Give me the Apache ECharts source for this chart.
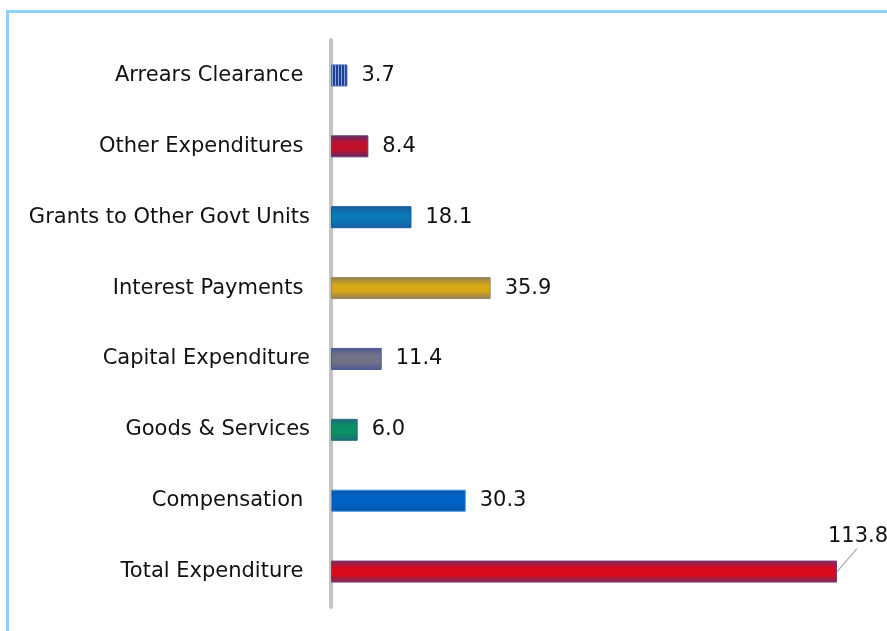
<!DOCTYPE html>
<html>
<head>
<meta charset="utf-8">
<script src="https://cdn.jsdelivr.net/npm/echarts@6/dist/echarts.min.js"></script>
<style>
    html, body { margin: 0; padding: 0; background: #fff; }
    #frame {
        position: absolute; left: 6px; top: 10px; width: 900px; height: 640px;
        border-top: 3px solid #8fd0ff; border-left: 3px solid #8fd0ff;
        box-sizing: border-box;
    }
    #chart { position: absolute; left: 0; top: 0; width: 887px; height: 631px; }
</style>
</head>
<body>
<div id="frame"></div>
<div id="chart"></div>
<script>
// categories bottom -> top (trailing spaces kept as in the source labels)
var categories = [
    'Total Expenditure ', 'Compensation ', 'Goods & Services', 'Capital Expenditure',
    'Interest Payments ', 'Grants to Other Govt Units', 'Other Expenditures ', 'Arrears Clearance '
];
var values = [113.8, 30.3, 6.0, 11.4, 35.9, 18.1, 8.4, 3.7];

// bar shading: [edge, centre, border]
var shades = [
    ['#7a2a66', '#d80a1a', '#7a3a70'],
    ['#0a55a8', '#0062c4', '#3a90e0'],
    ['#1d6a7a', '#0a9062', '#2a6a80'],
    ['#4a5890', '#737388', '#4a5a98'],
    ['#8a7e58', '#d8a818', '#9a8a60'],
    ['#1a5c9c', '#0878b6', '#1a5aa0'],
    ['#5c2a6a', '#c0102a', '#6a3a78'],
    null
];

var FONT = 'DejaVu Sans, Verdana, sans-serif';

// stripe pattern for the arrears bar
function stripes() {
    var c = document.createElement('canvas');
    c.width = 3; c.height = 4;
    var ctx = c.getContext('2d');
    ctx.fillStyle = '#1f3f90';
    ctx.fillRect(0, 0, 3, 4);
    ctx.fillStyle = '#8aa6e0';
    ctx.fillRect(2, 0, 1, 4);
    return c;
}

function barStyle(i) {
    var s = shades[i];
    if (!s) {
        return { color: { image: stripes(), repeat: 'repeat' }, borderColor: '#4a6ab0', borderWidth: 1 };
    }
    return {
        color: new echarts.graphic.LinearGradient(0, 0, 0, 1, [
            { offset: 0, color: s[0] },
            { offset: 0.35, color: s[1] },
            { offset: 0.65, color: s[1] },
            { offset: 1, color: s[0] }
        ]),
        borderColor: s[2],
        borderWidth: 1
    };
}

var seriesData = values.map(function(v, i) {
    return { value: v, itemStyle: barStyle(i) };
});

var chart = echarts.init(document.getElementById('chart'));
chart.setOption({
    animation: false,
    grid: { left: 331, right: 50, top: 40, bottom: 24 },
    xAxis: {
        type: 'value', min: 0, max: 113.8, show: false
    },
    yAxis: {
        type: 'category',
        data: categories,
        axisLine: { show: true, lineStyle: { color: '#c4c4c4', width: 4 } },
        axisTick: { show: false },
        axisLabel: {
            margin: 21,
            fontFamily: FONT,
            fontSize: 21,
            color: '#111'
        }
    },
    series: [{
        type: 'bar',
        data: seriesData,
        barWidth: 22,
        label: {
            show: true,
            position: 'right',
            distance: 14,
            fontFamily: FONT,
            fontSize: 21,
            color: '#111',
            formatter: function(p) { return p.value.toFixed(1); }
        },
        labelLayout: function(params) {
            if (params.dataIndex === 0) {
                return { dx: -23, dy: -35 };
            }
        }
    }]
});

// leader line from the end of the total bar up to its label
var end = chart.convertToPixel({ seriesIndex: 0 }, [values[0], 0]);
chart.setOption({
    graphic: [{
        type: 'line',
        shape: { x1: end[0], y1: end[1], x2: end[0] + 20, y2: end[1] - 23 },
        style: { stroke: '#aaaaaa', lineWidth: 1.2 },
        silent: true
    }]
});
</script>
</body>
</html>
